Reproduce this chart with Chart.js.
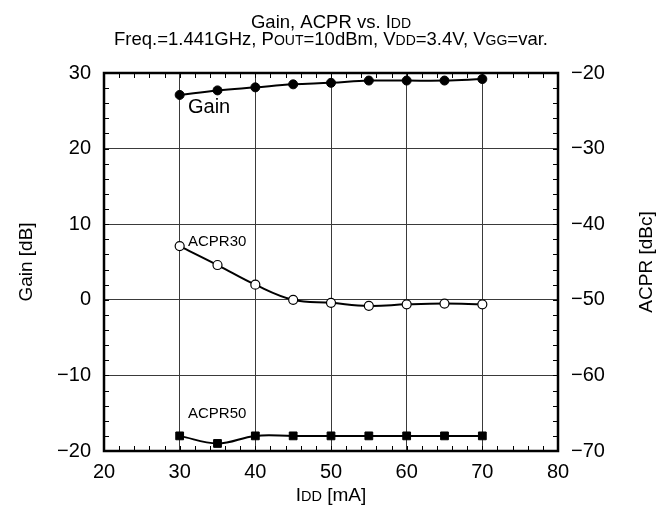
<!DOCTYPE html>
<html>
<head>
<meta charset="utf-8">
<script src="https://cdn.jsdelivr.net/npm/chart.js@4.4.0/dist/chart.umd.min.js"></script>
<style>
  body { margin: 0; background: #fff; }
  #wrap { width: 661px; height: 511px; position: relative; }
</style>
</head>
<body>
<div id="wrap"><canvas id="chart"></canvas></div>
<script>
  // Data
  const currents = [30, 35, 40, 45, 50, 55, 60, 65, 70];           // IDD [mA]
  const gainDb = [27.1, 27.7, 28.1, 28.5, 28.7, 29.0, 29.0, 29.0, 29.2];
  const acpr30 = [-42.9, -45.4, -48.0, -50.0, -50.4, -50.8, -50.6, -50.5, -50.6];
  const acpr50 = [-68, -69, -68, -68, -68, -68, -68, -68, -68];

  const xTicks = [20, 30, 40, 50, 60, 70, 80];
  const gainTicks = [-20, -10, 0, 10, 20, 30];
  const acprTicks = [-70, -60, -50, -40, -30, -20];

  const FONT = "'Liberation Sans', Arial, sans-serif";
  const minus = v => String(v).replace("-", "\u2212");

  // draw text made of normal / small-caps pieces, centred on cx
  function richText(ctx, parts, cx, y, big, small) {
    let w = 0;
    parts.forEach(p => {
      ctx.font = (p.s ? small : big) + "px " + FONT;
      w += ctx.measureText(p.t).width;
    });
    let x = cx - w / 2;
    ctx.textAlign = "left";
    ctx.textBaseline = "alphabetic";
    parts.forEach(p => {
      ctx.font = (p.s ? small : big) + "px " + FONT;
      ctx.fillText(p.t, x, y);
      x += ctx.measureText(p.t).width;
    });
  }

  function upText(ctx, text, cx, cy, size) {
    ctx.save();
    ctx.translate(cx, cy);
    ctx.rotate(-Math.PI / 2);
    ctx.font = size + "px " + FONT;
    ctx.textAlign = "center";
    ctx.textBaseline = "middle";
    ctx.fillText(text, 0, 0);
    ctx.restore();
  }

  const decor = {
    id: "decor",
    afterDraw(chart) {
      const { ctx, chartArea: a, scales } = chart;
      const x = scales.x, y = scales.y, y2 = scales.y2;
      ctx.save();
      ctx.strokeStyle = "#000";
      ctx.fillStyle = "#000";

      // inward minor ticks on all four sides
      ctx.lineWidth = 1;
      ctx.beginPath();
      for (let v = 20; v <= 80; v += 2) {
        const px = Math.round(x.getPixelForValue(v)) + 0.5;
        ctx.moveTo(px, a.bottom); ctx.lineTo(px, a.bottom - 5);
        ctx.moveTo(px, a.top); ctx.lineTo(px, a.top + 5);
      }
      for (let v = -20; v <= 30; v += 2) {
        const py = Math.round(y.getPixelForValue(v)) + 0.5;
        ctx.moveTo(a.left, py); ctx.lineTo(a.left + 5, py);
      }
      for (let v = -70; v <= -20; v += 2) {
        const py = Math.round(y2.getPixelForValue(v)) + 0.5;
        ctx.moveTo(a.right, py); ctx.lineTo(a.right - 5, py);
      }
      ctx.stroke();

      // frame
      ctx.lineWidth = 2.5;
      ctx.strokeRect(a.left, a.top, a.right - a.left, a.bottom - a.top);

      // titles
      richText(ctx, [{ t: "Gain, ACPR vs. I" }, { t: "DD", s: 1 }], 331, 28, 18.5, 14);
      richText(ctx, [
        { t: "Freq.=1.441GHz, P" }, { t: "OUT", s: 1 },
        { t: "=10dBm, V" }, { t: "DD", s: 1 },
        { t: "=3.4V, V" }, { t: "GG", s: 1 }, { t: "=var." }
      ], 331, 45, 18.5, 14);
      richText(ctx, [{ t: "I" }, { t: "DD", s: 1 }, { t: " [mA]" }], 331, 501, 19, 14.5);
      upText(ctx, "Gain [dB]", 27, (a.top + a.bottom) / 2, 19);
      upText(ctx, "ACPR [dBc]", 647, (a.top + a.bottom) / 2, 19);

      // series labels
      ctx.textAlign = "left";
      ctx.textBaseline = "alphabetic";
      ctx.font = "20px " + FONT;
      ctx.fillText("Gain", x.getPixelForValue(31.1), y.getPixelForValue(24.7));
      ctx.font = "15px " + FONT;
      ctx.fillText("ACPR30", x.getPixelForValue(31.1), y.getPixelForValue(7.1));
      ctx.fillText("ACPR50", x.getPixelForValue(31.1), y.getPixelForValue(-15.6));
      ctx.restore();
    }
  };

  const ctx = document.getElementById("chart").getContext("2d");
  new Chart(ctx, {
    type: "line",
    data: {
      labels: currents,
      datasets: [{
        label: "Gain",
        data: currents.map((c, i) => ({ x: c, y: gainDb[i] })),
        yAxisID: "y",
        borderColor: "#000",
        backgroundColor: "#000",
        borderWidth: 2,
        pointRadius: 4.5,
        pointBorderWidth: 1,
        tension: 0.4
      }, {
        label: "ACPR30",
        data: currents.map((c, i) => ({ x: c, y: acpr30[i] })),
        yAxisID: "y2",
        borderColor: "#000",
        backgroundColor: "#fff",
        borderWidth: 2,
        pointRadius: 4.5,
        pointBorderWidth: 1.2,
        tension: 0.4
      }, {
        label: "ACPR50",
        data: currents.map((c, i) => ({ x: c, y: acpr50[i] })),
        yAxisID: "y2",
        borderColor: "#000",
        backgroundColor: "#000",
        borderWidth: 2,
        pointStyle: "rect",
        pointRadius: 5.5,
        pointBorderWidth: 1,
        tension: 0.4
      }]
    },
    options: {
      responsive: true,
      maintainAspectRatio: false,
      animation: false,
      layout: { padding: { top: 73, left: 0, right: 0, bottom: 0 } },
      plugins: {
        legend: { display: false },
        tooltip: { enabled: false }
      },
      scales: {
        x: {
          type: "linear",
          min: 20, max: 80,
          afterBuildTicks: s => { s.ticks = xTicks.map(v => ({ value: v })); },
          afterFit: s => { s.height = 60; },
          grid: {
            drawTicks: false,
            lineWidth: 1,
            color: c => (c.tick && (c.tick.value === 20 || c.tick.value === 80)) ? "rgba(0,0,0,0)" : "#3a3a3a"
          },
          border: { display: false },
          ticks: { color: "#000", font: { family: FONT, size: 20 }, padding: 9 }
        },
        y: {
          position: "left",
          min: -20, max: 30,
          afterBuildTicks: s => { s.ticks = gainTicks.map(v => ({ value: v })); },
          afterFit: s => { s.width = 104; },
          grid: {
            drawTicks: false,
            lineWidth: 1,
            color: c => (c.tick && (c.tick.value === -20 || c.tick.value === 30)) ? "rgba(0,0,0,0)" : "#3a3a3a"
          },
          border: { display: false },
          ticks: { color: "#000", font: { family: FONT, size: 20 }, padding: 13, callback: minus }
        },
        y2: {
          position: "right",
          min: -70, max: -20,
          afterBuildTicks: s => { s.ticks = acprTicks.map(v => ({ value: v })); },
          afterFit: s => { s.width = 103; },
          grid: { display: false, drawTicks: false },
          border: { display: false },
          ticks: { color: "#000", font: { family: FONT, size: 20 }, padding: 13, callback: minus }
        }
      }
    },
    plugins: [decor]
  });
</script>
</body>
</html>
